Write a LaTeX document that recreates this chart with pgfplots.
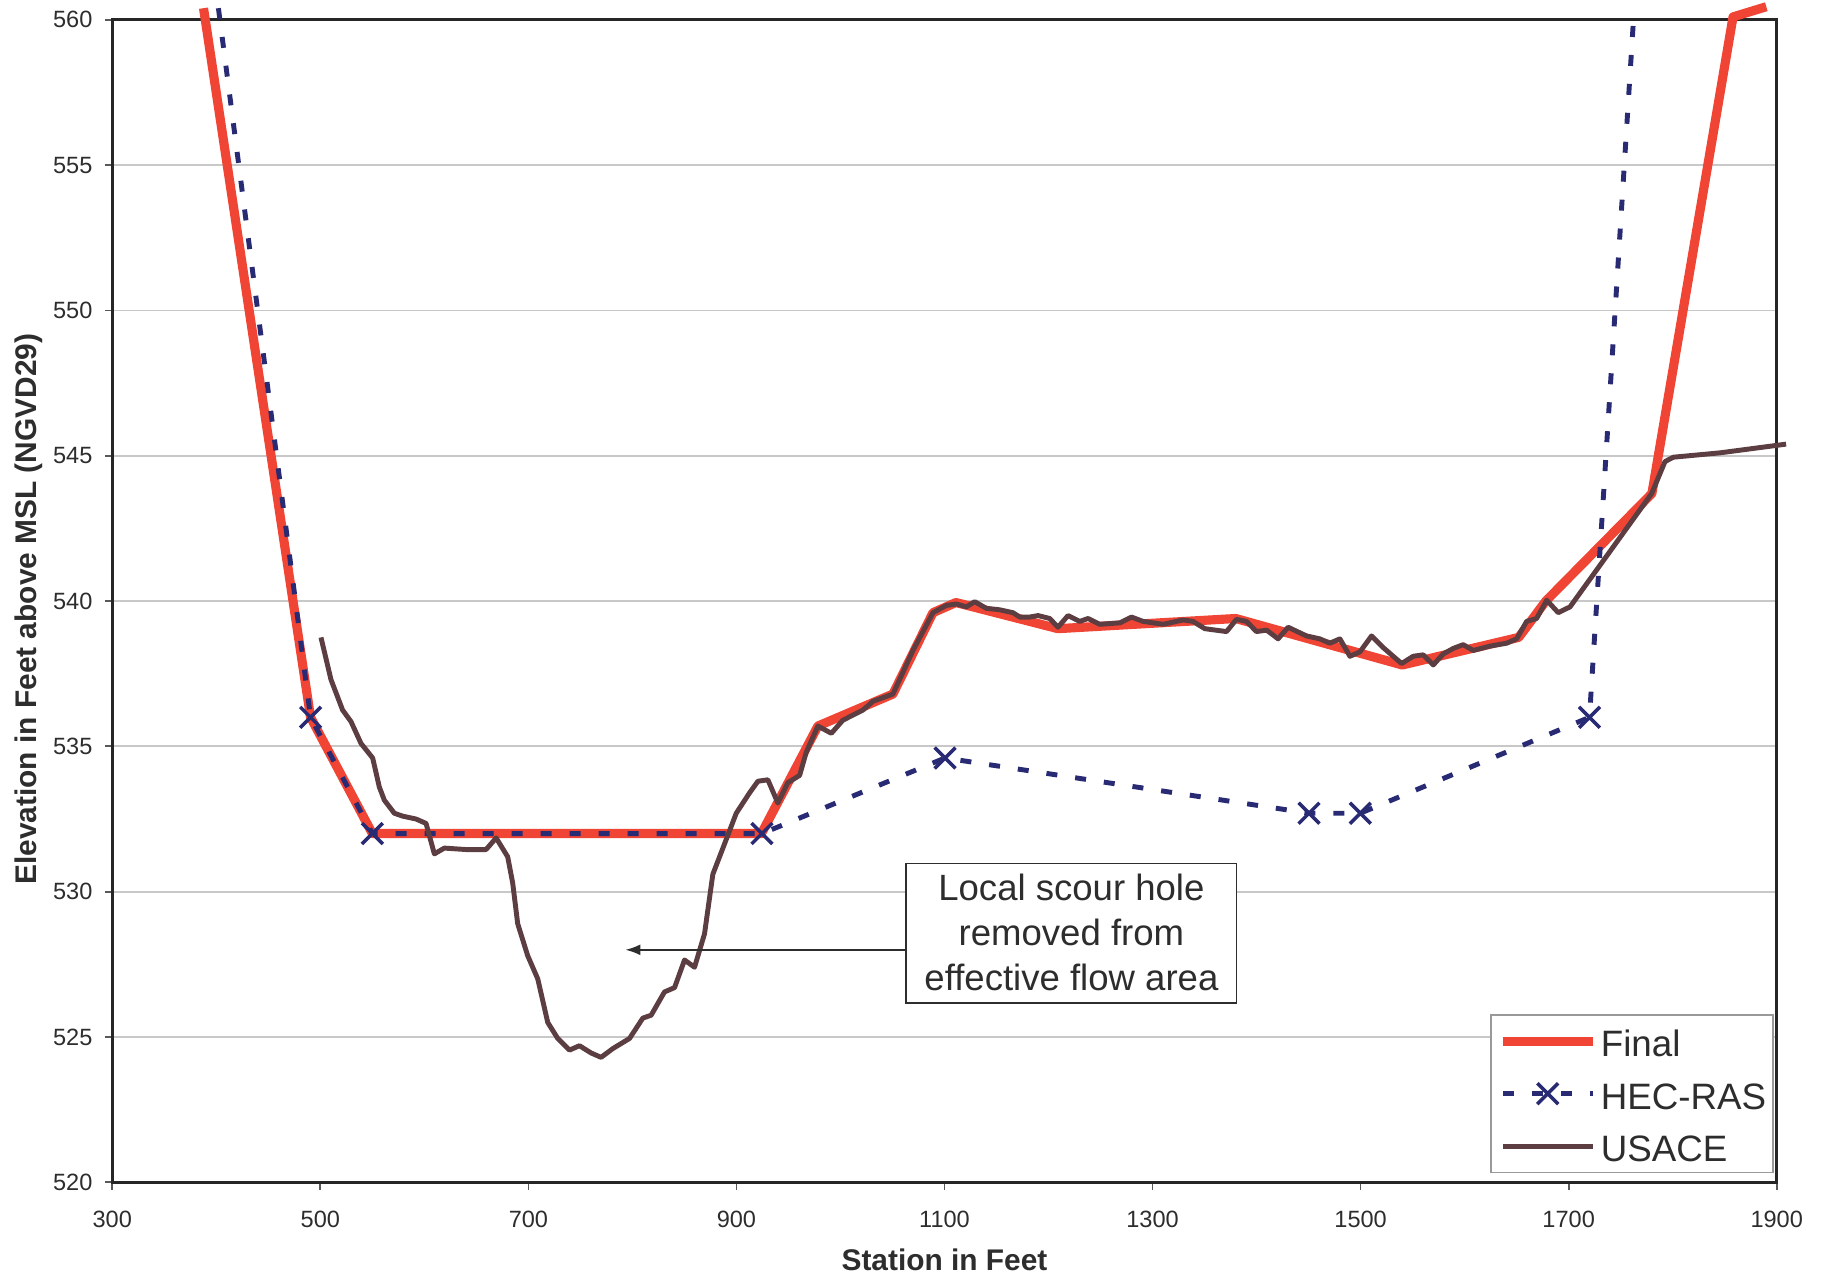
\documentclass[border=0pt]{standalone}
\usepackage{fontspec}
\setmainfont{Liberation Sans}
\usepackage{pgfplots}
\pgfplotsset{compat=1.18}
\usetikzlibrary{arrows.meta}
\definecolor{finalred}{RGB}{240,68,52}
\definecolor{hecnavy}{RGB}{40,42,115}
\definecolor{usacebrown}{RGB}{92,62,66}
\definecolor{txt}{RGB}{45,45,45}
\definecolor{gridgray}{RGB}{200,200,200}
\pgfplotsset{heclegend/.style={legend image code/.code={\draw[##1,mark indices={2}] plot coordinates {(0cm,0cm) (0.45cm,0cm) (0.9cm,0cm)};}}}
\begin{document}
\begin{tikzpicture}
\begin{axis}[
  scale only axis,
  width=16.644cm, height=11.625cm,
  xmin=300, xmax=1900, ymin=520, ymax=560,
  xtick={300,500,...,1900},
  ytick={520,525,...,560},
  xtick pos=bottom, ytick pos=left,
  tick align=outside,
  major tick length=0.075cm,
  tick style={gray!70!black, line width=0.5pt},
  ymajorgrids,
  grid style={gridgray, line width=0.5pt},
  axis line style={black!85, line width=0.8pt},
  clip=false,
  /pgf/number format/assume math mode=true,
  /pgf/number format/1000 sep={},
  ticklabel style={font=\fontsize{6.7}{8}\selectfont, text=txt},
  xticklabel style={yshift=-0.09cm},
  xlabel={Station in Feet},
  ylabel={Elevation in Feet above MSL (NGVD29)},
  label style={font=\fontsize{8.5}{10}\selectfont\bfseries, text=txt},
  xlabel style={at={(axis description cs:0.5,-0.0755)}, anchor=base},
  ylabel style={at={(axis description cs:-0.0499,0.493)}, anchor=center},
  legend style={at={(axis description cs:1,0)}, anchor=south east, xshift=-0.027cm, yshift=0.09cm,
    draw=gray!80, line width=0.5pt, inner xsep=0.07cm, inner ysep=0pt, row sep=0pt,
    font=\fontsize{10.45}{12}\selectfont, text=txt,
    nodes={inner xsep=0pt, inner ysep=1pt, text height=10.9pt, text depth=2.04pt},
    /tikz/every odd column/.append style={column sep=0.035cm}},
  legend cell align=left,
  legend image code/.code={\draw[mark repeat=2,mark phase=2,#1] plot coordinates {(0cm,0cm) (0.45cm,0cm) (0.9cm,0cm)};},
]
\addplot[finalred, line width=2.6pt, line join=round] coordinates {
(387.7,560.4) (490.6,536.0) (550,532.0) (924,532.0) (978.3,535.7) (1050.4,536.8)
(1088.9,539.6) (1111,539.95) (1209,539.05) (1380,539.4) (1540,537.8) (1652,538.75)
(1678,540.0) (1780,543.7) (1858,560.1) (1890,560.45)
};
\addlegendentry{Final}
\addplot[hecnavy, line width=1.4pt, dash pattern=on 0.11cm off 0.18cm, mark=x, mark size=4.2pt,
  mark indices={2,3,4,5,6,7,8}, mark options={solid, line width=1pt}, heclegend] coordinates {
(402,560.4) (490.6,536.0) (550,532.0) (924.5,532.0) (1100.5,534.6) (1450.4,532.7)
(1499.7,532.7) (1720,536.0) (1763,560.4)
};
\addlegendentry{HEC-RAS}
\addplot[usacebrown, line width=1.4pt, line join=round] coordinates {
(500.6,538.75) (510.2,537.3) (521.4,536.25) (529.5,535.85) (539.1,535.1) (550.3,534.6)
(556.7,533.6) (561.5,533.15) (571.1,532.7) (579.1,532.6) (592.0,532.5) (601.6,532.35)
(609.6,531.3) (619.2,531.5) (640.1,531.45) (659.3,531.45) (669.0,531.85) (680.1,531.2)
(684.9,530.3) (689.7,528.9) (699.3,527.8) (709.0,527.0) (718.6,525.5) (728.2,524.95)
(739.5,524.55) (749.1,524.7) (760.3,524.45) (769.9,524.3) (781.1,524.6) (797.2,524.95)
(810.0,525.65) (818.0,525.75) (830.8,526.55) (840.5,526.7) (850.1,527.65) (859.7,527.4)
(869.3,528.55) (877.3,530.6) (890.2,531.8) (899.8,532.7) (912.6,533.4) (920.6,533.8)
(930.2,533.85) (939.8,533.05) (949.4,533.75) (960.7,534.0) (967.1,534.8) (978.3,535.7)
(991.2,535.45) (1002.3,535.9) (1021.6,536.25) (1031.2,536.55) (1050.4,536.8) (1069.7,538.3)
(1088.9,539.6) (1101.8,539.85) (1111.4,539.9) (1121.0,539.8) (1129.0,539.98) (1140.2,539.75)
(1153.0,539.7) (1165.8,539.6) (1172.3,539.45) (1181.9,539.45) (1189.9,539.5) (1201.1,539.4)
(1209.1,539.1) (1218.7,539.5) (1230.0,539.3) (1238.0,539.4) (1249.2,539.2) (1268.5,539.25)
(1279.7,539.45) (1290.9,539.3) (1310.1,539.2) (1329.3,539.35) (1338.9,539.3) (1350.2,539.05)
(1371.1,538.95) (1380.7,539.37) (1390.3,539.3) (1399.9,538.95) (1409.6,539.0) (1420.7,538.7)
(1430.3,539.1) (1448.0,538.8) (1460.8,538.7) (1470.4,538.55) (1480.1,538.7) (1489.7,538.1)
(1499.3,538.25) (1510.5,538.8) (1521.7,538.4) (1539.4,537.85) (1550.5,538.1) (1560.2,538.15)
(1569.8,537.8) (1579.4,538.18) (1589.0,538.37) (1598.6,538.5) (1608.3,538.3) (1624.3,538.45)
(1640.4,538.55) (1650.0,538.7) (1659.6,539.3) (1669.2,539.4) (1678.9,540.03) (1690.0,539.6)
(1701.3,539.8) (1779.8,543.7) (1792.6,544.8) (1800.6,544.95) (1845.5,545.1) (1909,545.4)
};
\addlegendentry{USACE}
\draw[txt, line width=0.5pt, fill=white] (axis cs:1063.3,530.97) rectangle (axis cs:1380.7,526.16);
\node[txt, align=center, font=\fontsize{10.4}{12.8}\selectfont, inner sep=0pt] at (axis cs:1222,528.6)
  {Local scour hole\\removed from\\effective flow area};
\draw[txt, line width=0.5pt, -{Latex[length=0.15cm, width=0.11cm]}] (axis cs:1063.3,528) -- (axis cs:793.3,528);
\end{axis}
\pgfresetboundingbox
\path[use as bounding box] (-1.123cm,-0.927cm) rectangle (17.157cm,11.823cm);
\end{tikzpicture}
\end{document}
